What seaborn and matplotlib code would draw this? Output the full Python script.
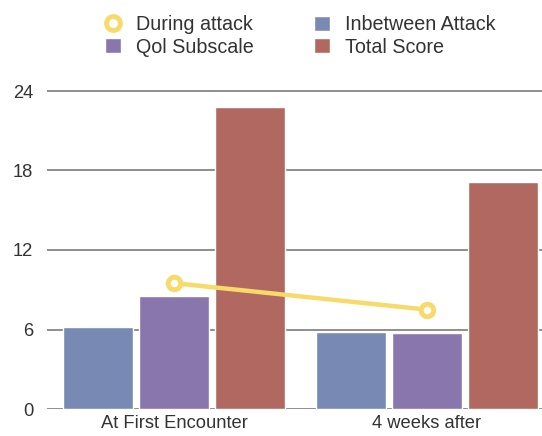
import matplotlib
matplotlib.use("Agg")
import matplotlib.pyplot as plt
from matplotlib.lines import Line2D
from matplotlib.patches import Patch
import seaborn as sns
import pandas as pd

# ---- data ----
categories = ["At First Encounter", "4 weeks after"]
inbetween_attack = [6.2, 5.8]
qol_subscale = [8.5, 5.7]
total_score = [22.8, 17.1]
during_attack = [9.5, 7.5]
bar_series = ["Inbetween Attack", "Qol Subscale", "Total Score"]
y_ticks = [0, 6, 12, 18, 24]

colors = {"Inbetween Attack": "#7889b4", "Qol Subscale": "#8876ad", "Total Score": "#b06861"}
yellow = "#f7da6a"
text_color = "#333333"

rows = []
for s, vals in zip(bar_series, [inbetween_attack, qol_subscale, total_score]):
    for c, v in zip(categories, vals):
        rows.append({"category": c, "series": s, "value": v})
df = pd.DataFrame(rows)

sns.set_style("white")
plt.rcParams["font.family"] = ["Liberation Sans", "DejaVu Sans"]

fig = plt.figure(figsize=(5.42, 4.36), dpi=100)
ax = fig.add_axes([47 / 542, 27 / 436, 1 - 47 / 542, (409 - 80) / 436])

sns.barplot(data=df, x="category", y="value", hue="series", order=categories,
            hue_order=bar_series, palette=colors, width=0.9, gap=0.07,
            saturation=1, legend=False, ax=ax, errorbar=None)

sns.pointplot(x=categories, y=during_attack, order=categories, color=yellow,
              markers="o", linestyles="-", ax=ax, errorbar=None,
              markerfacecolor="white", markeredgecolor=yellow,
              markersize=9, markeredgewidth=3.5, linewidth=3.2)

ax.set_xlim(-0.502, 1.455)
ax.set_ylim(0, (409 - 80) / ((409 - 91) / 24))
ax.set_yticks(y_ticks)
ax.set_yticklabels([str(t) for t in y_ticks])
ax.yaxis.grid(True, color="#707070", linewidth=1.1)
ax.set_axisbelow(True)
for sp in ax.spines.values():
    sp.set_visible(False)
ax.set_xlabel("")
ax.set_ylabel("")
ax.tick_params(axis="y", length=0, pad=10, labelsize=13.2, labelcolor=text_color)
ax.tick_params(axis="x", length=0, pad=4, labelsize=13.2, labelcolor=text_color)

handles = [
    Line2D([0], [0], marker="o", linestyle="none", markerfacecolor="white",
           markeredgecolor=yellow, markersize=10, markeredgewidth=3.5),
    Patch(facecolor=colors["Qol Subscale"]),
    Patch(facecolor=colors["Inbetween Attack"]),
    Patch(facecolor=colors["Total Score"]),
]
labels = ["During attack", "Qol Subscale", "Inbetween Attack", "Total Score"]
fig.legend(handles, labels, ncol=2, loc="upper left",
           bbox_to_anchor=(105 / 542, 1 - 15 / 436), frameon=False,
           fontsize=14.2, handlelength=0.8, handleheight=0.8,
           handletextpad=0.75, columnspacing=3.1, labelspacing=0.18,
           borderpad=0, borderaxespad=0, labelcolor=text_color)

fig.savefig("out.png", dpi=100)
